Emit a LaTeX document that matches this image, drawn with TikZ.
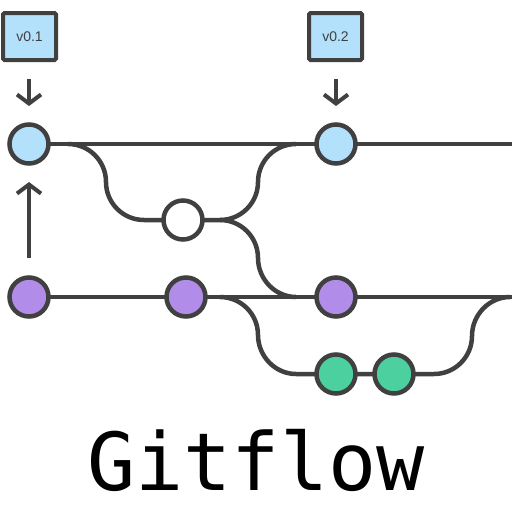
\documentclass[tikz,border=0pt]{standalone}
\usepackage{fontspec}
\setmainfont{Liberation Sans}
\newfontfamily\gitmono{DejaVu Sans Mono}
\usetikzlibrary{arrows.meta}
\definecolor{ink}{RGB}{64,64,64}
\definecolor{tagblue}{RGB}{179,225,252}
\definecolor{purp}{RGB}{177,140,233}
\definecolor{grn}{RGB}{76,208,160}
\tikzset{
  commit/.style={circle,draw=ink,line width=4.5pt,minimum size=39pt,inner sep=0pt},
  tagbox/.style={rectangle,draw=ink,fill=tagblue,line width=4pt,minimum width=53pt,minimum height=47pt,rounded corners=1.5pt,inner sep=0pt,font=\fontsize{14}{14}\selectfont,text=ink},
  ln/.style={draw=ink,line width=4.5pt},
  tagarrow/.style={draw=ink,line width=4pt,-{Straight Barb[length=9pt,width=24pt]}}
}
\begin{document}
\begin{tikzpicture}[x=1pt,y=-1pt]
\useasboundingbox (0,0) rectangle (512,512);
\fill[white] (0,0) rectangle (512,512);
% coordinates
\coordinate (topend) at (512,144);
\coordinate (midend) at (512,297);
% lines behind nodes
\draw[ln] (29,144) -- (topend);
\draw[ln] (29,297) -- (midend);
\draw[ln] (68,144) .. controls (89,144) and (106,161) .. (106,182)
                   .. controls (106,203) and (123,220) .. (144,220) -- (220,220);
\draw[ln] (220,220) .. controls (241,220) and (258,203) .. (258,182)
                    .. controls (258,161) and (275,144) .. (296,144);
\draw[ln] (220,220) .. controls (241,220) and (258,237) .. (258,258)
                    .. controls (258,279) and (275,297) .. (296,297);
\draw[ln] (220,297) .. controls (241,297) and (258,314) .. (258,335)
                    .. controls (258,356) and (275,374) .. (296,374) -- (434,374)
                    .. controls (455,374) and (472,357) .. (472,336)
                    .. controls (472,315) and (489,297) .. (510,297);
% commits
\node[commit,fill=tagblue] (c1) at (29,144) {};
\node[commit,fill=tagblue] (c2) at (336,144) {};
\node[commit,fill=white] (w) at (183,220) {};
\node[commit,fill=purp] (p1) at (29,297) {};
\node[commit,fill=purp] (p2) at (186,297) {};
\node[commit,fill=purp] (p3) at (336,297) {};
\node[commit,fill=grn] (g1) at (336,374) {};
\node[commit,fill=grn] (g2) at (394,374) {};
% tags
\node[tagbox] (t1) at (29.5,36.5) {v0.1};
\node[tagbox] (t2) at (335.5,36.5) {v0.2};
% arrows
\coordinate (a1s) at (29,79);
\coordinate (a1e) at (29,106);
\coordinate (a2s) at (336,79);
\coordinate (a2e) at (336,106);
\coordinate (a3s) at (29,258);
\coordinate (a3e) at (29,182);
\draw[tagarrow] (a1s) -- (a1e);
\draw[tagarrow] (a2s) -- (a2e);
\draw[tagarrow] (a3s) -- (a3e);
% title
\node[anchor=base,inner sep=0pt,font=\gitmono\fontsize{80}{80}\selectfont] (title) at (256,490) {Gitflow};
\end{tikzpicture}
\end{document}
